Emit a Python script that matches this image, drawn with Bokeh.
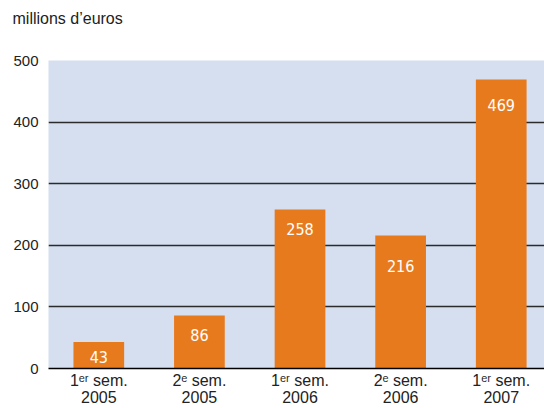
from bokeh.plotting import figure
from bokeh.models import ColumnDataSource, FixedTicker, Range1d
from bokeh.core.properties import value
from bokeh.embed import file_html
from bokeh.resources import INLINE

# data
categories = ["1ᵉʳ sem.\n2005", "2ᵉ sem.\n2005", "1ᵉʳ sem.\n2006", "2ᵉ sem.\n2006", "1ᵉʳ sem.\n2007"]
amounts = [43, 86, 258, 216, 469]
label_y = [18, 55, 227, 167, 428]
y_ticks = [0, 100, 200, 300, 400, 500]
unit_label = "millions d’euros"

xpos = [i + 0.5 for i in range(len(categories))]
src = ColumnDataSource(dict(x=xpos, top=amounts, ly=label_y, txt=[str(a) for a in amounts]))

p = figure(width=544, height=408, output_backend="svg", toolbar_location=None,
           x_range=Range1d(0, 4.93), y_range=Range1d(0, 500),
           min_border_left=48, min_border_right=0, min_border_bottom=0, min_border_top=60)
p.background_fill_color = "#d5dff0"
p.border_fill_color = "white"
p.outline_line_color = None

p.title.text = unit_label
p.title.align = "left"
p.title.vertical_align = "top"
p.title.offset = -36
p.title.text_font = "Liberation Sans"
p.title.text_font_style = "normal"
p.title.text_font_size = "16px"
p.title.text_color = "#222222"
p.title.standoff = 0
p.title.padding = dict(left=0, right=0, top=0, bottom=32)

p.vbar(x="x", top="top", width=0.504, source=src, fill_color="#e87a1e", line_color=None)
p.text(x="x", y="ly", text="txt", source=src, text_align="center", text_baseline="middle",
       text_color="white",
       text_font=value("Liberation Sans Narrow, DejaVu Sans Condensed, Roboto Condensed, Liberation Sans"),
       text_font_size="16px")

p.xgrid.visible = False
p.ygrid.ticker = FixedTicker(ticks=y_ticks)
p.ygrid.grid_line_color = "#2b2b2b"
p.ygrid.grid_line_width = 1.6

p.yaxis.ticker = FixedTicker(ticks=y_ticks)
p.yaxis.axis_line_color = None
p.yaxis.major_tick_line_color = None
p.yaxis.minor_tick_line_color = None
p.yaxis.major_tick_out = 0
p.yaxis.major_tick_in = 0
p.yaxis.major_label_standoff = 10
p.yaxis.major_label_text_font = "Liberation Sans"
p.yaxis.major_label_text_font_size = "15px"
p.yaxis.major_label_text_color = "#222222"

p.xaxis.ticker = FixedTicker(ticks=xpos)
p.xaxis.major_label_overrides = {x: c for x, c in zip(xpos, categories)}
p.xaxis.axis_line_color = "black"
p.xaxis.axis_line_width = 1.6
p.xaxis.major_tick_line_color = None
p.xaxis.minor_tick_line_color = None
p.xaxis.major_tick_out = 0
p.xaxis.major_tick_in = 0
p.xaxis.major_label_standoff = 3
p.xaxis.major_label_text_font = "Liberation Sans"
p.xaxis.major_label_text_font_size = "16px"
p.xaxis.major_label_text_color = "#222222"
p.xaxis.major_label_text_line_height = 1.0

open("out.html", "w").write(file_html(p, INLINE))
